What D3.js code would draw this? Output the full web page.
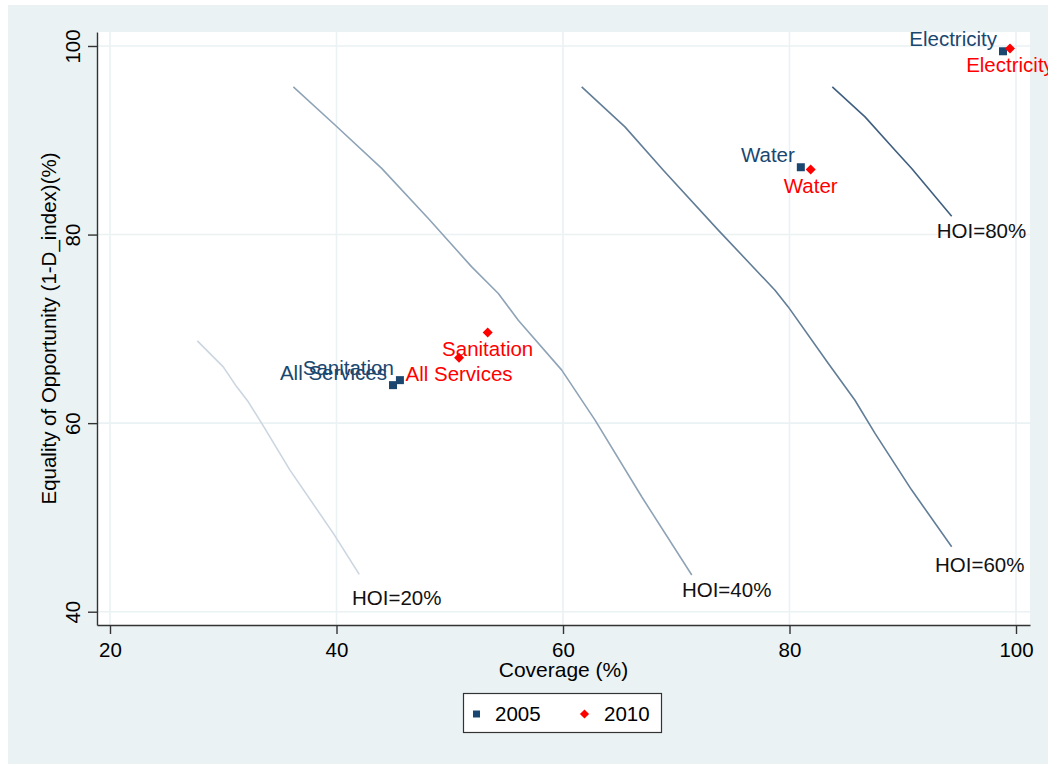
<!DOCTYPE html>
<html>
<head>
<meta charset="utf-8">
<script src="https://cdn.jsdelivr.net/npm/d3@7"></script>
<style>
  html, body { margin: 0; padding: 0; background: #ffffff; }
  svg { display: block; font-family: "Liberation Sans", Arial, Helvetica, sans-serif; }
</style>
</head>
<body>
<svg id="chart" width="1048" height="765"></svg>
<script>
// Service categories and their (coverage, equality) position per survey year
const categories = ["Electricity", "Water", "Sanitation", "All Services"];
const coverage2005 = [98.85, 81.0, 45.6, 44.99];
const equality2005 = [99.44, 87.14, 64.56, 64.03];
const coverage2010 = [99.47, 81.87, 53.35, 50.82];
const equality2010 = [99.73, 86.9, 69.62, 66.93];

// Iso-HOI reference curves: [coverage, equality] vertices
const hoiLevels = [20, 40, 60, 80];
const hoiCoverage = [
  [27.71, 30.0, 31.19, 32.21, 33.40, 35.89, 39.72, 42.01],
  [36.19, 39.87, 43.99, 48.11, 51.94, 54.29, 56.05, 59.89, 62.83, 66.95, 71.37],
  [61.65, 65.47, 68.86, 73.71, 78.72, 79.89, 83.43, 85.78, 87.55, 90.79, 94.32],
  [83.78, 86.67, 89.32, 90.79, 94.32]
];
const hoiEquality = [
  [68.73, 65.97, 63.85, 62.26, 59.97, 55.02, 48.31, 43.96],
  [95.66, 91.62, 87.02, 81.71, 76.57, 73.75, 70.92, 65.62, 60.32, 52.19, 43.89],
  [95.66, 91.42, 86.83, 80.47, 74.1, 72.33, 66.33, 62.43, 58.91, 52.9, 46.89],
  [95.66, 92.48, 88.95, 87.0, 81.95]
];
// Where each curve's caption sits (left edge, vertical middle), in data units
const hoiLabelCoverage = [41.37, 70.5, 92.85, 93.0];
const hoiLabelEquality = [41.5, 42.3, 45.0, 80.36];

const xTicks = [20, 40, 60, 80, 100];
const yTicks = [40, 60, 80, 100];
const years = ["2005", "2010"];

const navy = "#1a476f";
const red = "#ff0000";
const curveColors = ["#cbd6e1", "#8fa3b7", "#627d97", "#3f5f80"];
const fontSize = "20.5px";

const svg = d3.select("#chart");

// Outer graph region
svg.append("rect").attr("x", 8).attr("y", 5).attr("width", 1040).attr("height", 759)
  .attr("fill", "#eaf2f3");

const x = d3.scaleLinear().domain([18.852, 101.236]).range([97, 1030]);
const y = d3.scaleLinear().domain([38.59, 101.484]).range([625, 32]);

// Plot region
svg.append("rect")
  .attr("x", x.range()[0]).attr("y", y.range()[1])
  .attr("width", x.range()[1] - x.range()[0])
  .attr("height", y.range()[0] - y.range()[1])
  .attr("fill", "#ffffff");

// Grid lines
const grid = svg.append("g").attr("stroke", "#eaf2f3").attr("stroke-width", 1.6);
grid.selectAll(".gx").data(xTicks).join("line")
  .attr("x1", d => x(d)).attr("x2", d => x(d))
  .attr("y1", y.range()[1]).attr("y2", y.range()[0]);
grid.selectAll(".gy").data(yTicks).join("line")
  .attr("y1", d => y(d)).attr("y2", d => y(d))
  .attr("x1", x.range()[0]).attr("x2", x.range()[1]);

// Axes
const xAxis = svg.append("g")
  .attr("transform", `translate(0,${y.range()[0]})`)
  .call(d3.axisBottom(x).tickValues(xTicks).tickSize(9).tickSizeOuter(0).tickPadding(5));
xAxis.select(".domain").attr("stroke", "#333").attr("stroke-width", 1.4);
xAxis.selectAll(".tick line").attr("stroke", "#333").attr("stroke-width", 1.4);
xAxis.selectAll(".tick text")
  .attr("y", 32).attr("dy", 0)
  .attr("font-size", fontSize).attr("fill", "#000");

const yAxis = svg.append("g")
  .attr("transform", `translate(${x.range()[0]},0)`)
  .call(d3.axisLeft(y).tickValues(yTicks).tickSize(9).tickSizeOuter(0));
yAxis.select(".domain").attr("stroke", "#333").attr("stroke-width", 1.4);
yAxis.selectAll(".tick line").attr("stroke", "#333").attr("stroke-width", 1.4);
yAxis.selectAll(".tick text")
  .attr("x", 0).attr("y", -17).attr("dy", 0)
  .attr("transform", "rotate(-90)")
  .attr("text-anchor", "middle")
  .attr("font-size", fontSize).attr("fill", "#000");
svg.selectAll(".tick text").attr("font-family", null);
svg.selectAll("g").filter(function () { return this.getAttribute("font-family"); })
  .attr("font-family", null).attr("font-size", null);

// Axis titles
svg.append("text")
  .attr("x", (x.range()[0] + x.range()[1]) / 2).attr("y", 677)
  .attr("text-anchor", "middle").attr("font-size", "21px").attr("fill", "#000")
  .text("Coverage (%)");
svg.append("text")
  .attr("transform", `translate(56,${(y.range()[0] + y.range()[1]) / 2}) rotate(-90)`)
  .attr("text-anchor", "middle").attr("font-size", fontSize).attr("fill", "#000")
  .text("Equality of Opportunity (1-D_index)(%)");

// Iso-HOI curves
const line = d3.line().x(d => x(d[0])).y(d => y(d[1]));
hoiLevels.forEach((level, i) => {
  const pts = hoiCoverage[i].map((c, j) => [c, hoiEquality[i][j]]);
  svg.append("path").attr("d", line(pts))
    .attr("fill", "none").attr("stroke", curveColors[i]).attr("stroke-width", 1.6)
    .attr("stroke-linejoin", "round");
  svg.append("text")
    .attr("x", x(hoiLabelCoverage[i])).attr("y", y(hoiLabelEquality[i]))
    .attr("dy", "0.35em")
    .attr("font-size", fontSize).attr("fill", "#111")
    .text(`HOI=${level}%`);
});

// Markers
const square = d3.symbol().type(d3.symbolSquare).size(64);
const diamond = d3.symbol().type(d3.symbolSquare).size(50);

const g05 = svg.append("g");
categories.forEach((name, i) => {
  const px = x(coverage2005[i]), py = y(equality2005[i]);
  g05.append("path").attr("d", square()).attr("transform", `translate(${px},${py})`)
    .attr("fill", navy);
});
categories.forEach((name, i) => {
  const px = x(coverage2005[i]), py = y(equality2005[i]);
  g05.append("text").attr("x", px - 6).attr("y", py - 5)
    .attr("text-anchor", "end").attr("font-size", fontSize).attr("fill", navy)
    .text(name);
});

const g10 = svg.append("g");
categories.forEach((name, i) => {
  const px = x(coverage2010[i]), py = y(equality2010[i]);
  g10.append("path").attr("d", diamond()).attr("transform", `translate(${px},${py}) rotate(45)`)
    .attr("fill", red);
});
categories.forEach((name, i) => {
  const px = x(coverage2010[i]), py = y(equality2010[i]);
  g10.append("text").attr("x", px).attr("y", py + 23.5)
    .attr("text-anchor", "middle").attr("font-size", fontSize).attr("fill", red)
    .text(name);
});

// Legend
const legend = svg.append("g");
legend.append("rect").attr("x", 463.5).attr("y", 693.5).attr("width", 198).attr("height", 39)
  .attr("fill", "#ffffff").attr("stroke", "#333").attr("stroke-width", 1.2);
legend.append("path").attr("d", d3.symbol().type(d3.symbolSquare).size(49)())
  .attr("transform", "translate(476.5,714)").attr("fill", navy);
legend.append("text").attr("x", 495).attr("y", 721).attr("font-size", fontSize).attr("fill", "#000")
  .text(years[0]);
legend.append("path").attr("d", d3.symbol().type(d3.symbolSquare).size(42)())
  .attr("transform", "translate(584.5,714) rotate(45)").attr("fill", red);
legend.append("text").attr("x", 604).attr("y", 721).attr("font-size", fontSize).attr("fill", "#000")
  .text(years[1]);
</script>
</body>
</html>
